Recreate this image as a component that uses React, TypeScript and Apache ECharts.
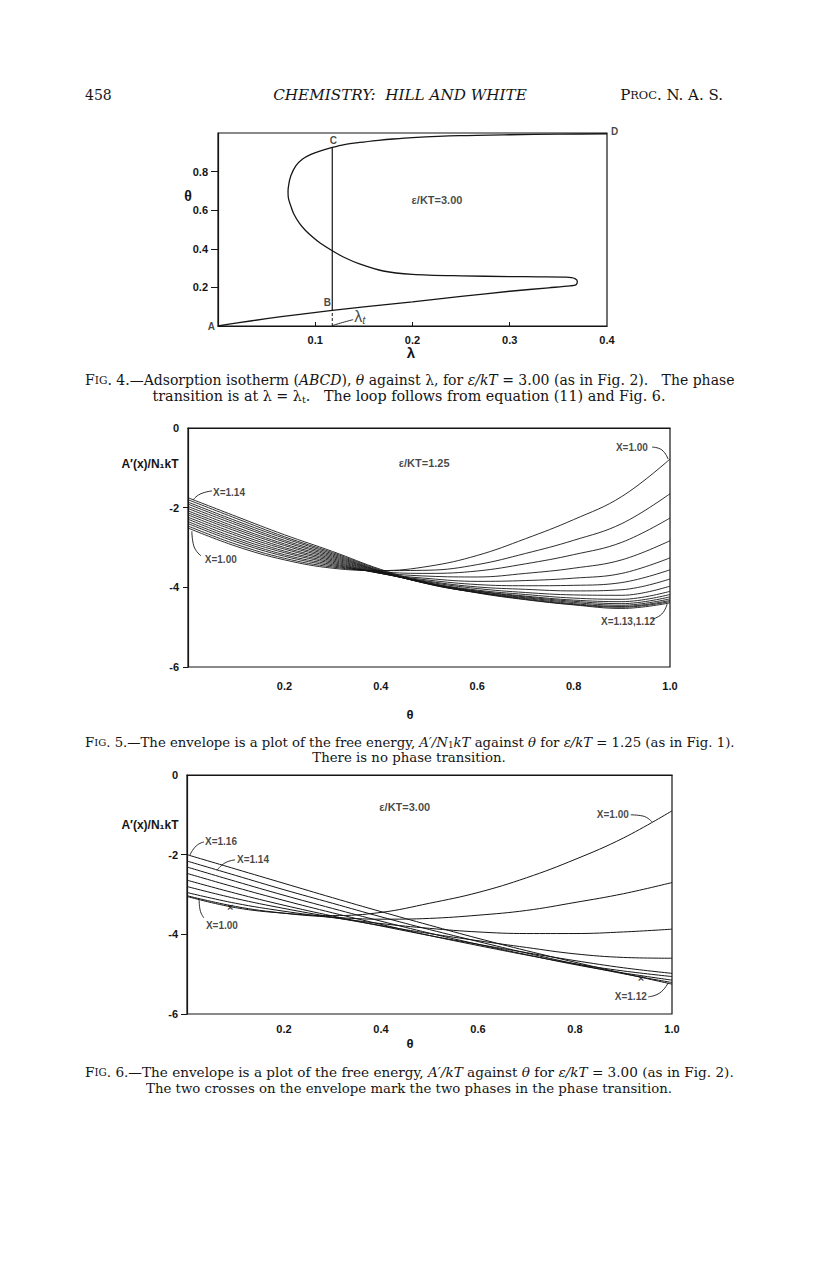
import React, { useEffect, useRef } from 'react';
import * as echarts from 'echarts';

// ---------------- Fig. 4 : adsorption isotherm (lambda, theta) ----------------
const fig4Lambda = [0, 0.02, 0.05, 0.08, 0.1175, 0.15, 0.2, 0.25, 0.3, 0.34, 0.362, 0.368, 0.3695, 0.367, 0.358, 0.33, 0.3, 0.25, 0.2, 0.17, 0.1455, 0.13, 0.1175, 0.105, 0.0976, 0.09, 0.084, 0.078, 0.075, 0.0725, 0.072, 0.073, 0.075, 0.08, 0.087, 0.095, 0.104, 0.1175, 0.13, 0.1455, 0.165, 0.18, 0.2, 0.248, 0.3, 0.35, 0.4];
const fig4Theta = [0, 0.016, 0.038, 0.058, 0.081, 0.099, 0.125, 0.153, 0.18, 0.198, 0.208, 0.213, 0.23, 0.246, 0.253, 0.255, 0.256, 0.26, 0.268, 0.285, 0.322, 0.355, 0.39, 0.43, 0.46, 0.495, 0.53, 0.58, 0.62, 0.66, 0.697, 0.74, 0.78, 0.83, 0.865, 0.888, 0.905, 0.925, 0.94, 0.951, 0.962, 0.969, 0.976, 0.986, 0.991, 0.994, 0.996];
const lambdaT = 0.1175;
const thetaB = 0.081;
const thetaC = 0.925;
const fig4XTicks = [0.1, 0.2, 0.3, 0.4];
const fig4YTicks = [0.2, 0.4, 0.6, 0.8];

// ---------------- Fig. 5 : eps/kT = 1.25, X = 1.00 ... 1.14 ----------------
const fig5Theta = [0, 0.1, 0.2, 0.3, 0.4, 0.5, 0.6, 0.7, 0.8, 0.9, 1.0];
const f5x100 = [-2.51, -2.97, -3.31, -3.52, -3.58, -3.47, -3.2, -2.78, -2.3, -1.72, -0.78];
const f5x101 = [-2.46, -2.92, -3.27, -3.49, -3.58, -3.57, -3.43, -3.15, -2.82, -2.4, -1.65];
const f5x102 = [-2.4, -2.86, -3.22, -3.46, -3.61, -3.65, -3.59, -3.41, -3.18, -2.87, -2.26];
const f5x103 = [-2.35, -2.81, -3.18, -3.43, -3.63, -3.72, -3.74, -3.65, -3.52, -3.31, -2.83];
const f5x104 = [-2.29, -2.76, -3.13, -3.4, -3.65, -3.78, -3.85, -3.83, -3.77, -3.65, -3.26];
const f5x105 = [-2.24, -2.7, -3.09, -3.37, -3.65, -3.82, -3.93, -3.96, -3.95, -3.88, -3.56];
const f5x106 = [-2.18, -2.65, -3.04, -3.34, -3.65, -3.85, -3.99, -4.05, -4.09, -4.06, -3.79];
const f5x107 = [-2.13, -2.59, -3.0, -3.31, -3.64, -3.87, -4.03, -4.13, -4.19, -4.2, -3.97];
const f5x108 = [-2.08, -2.54, -2.95, -3.28, -3.63, -3.89, -4.07, -4.18, -4.27, -4.3, -4.1];
const f5x109 = [-2.02, -2.49, -2.91, -3.25, -3.62, -3.9, -4.09, -4.22, -4.32, -4.36, -4.18];
const f5x110 = [-1.97, -2.43, -2.86, -3.22, -3.61, -3.91, -4.1, -4.24, -4.35, -4.41, -4.24];
const f5x111 = [-1.91, -2.38, -2.82, -3.19, -3.6, -3.91, -4.12, -4.26, -4.38, -4.45, -4.29];
const f5x112 = [-1.86, -2.33, -2.77, -3.16, -3.59, -3.92, -4.13, -4.28, -4.41, -4.48, -4.33];
const f5x113 = [-1.8, -2.27, -2.73, -3.13, -3.57, -3.92, -4.13, -4.3, -4.43, -4.5, -4.36];
const f5x114 = [-1.75, -2.22, -2.68, -3.1, -3.55, -3.9, -4.14, -4.31, -4.44, -4.53, -4.39];
const fig5Names = ['X=1.00', 'X=1.01', 'X=1.02', 'X=1.03', 'X=1.04', 'X=1.05', 'X=1.06', 'X=1.07', 'X=1.08', 'X=1.09', 'X=1.10', 'X=1.11', 'X=1.12', 'X=1.13', 'X=1.14'];
const fig5Curves = [f5x100, f5x101, f5x102, f5x103, f5x104, f5x105, f5x106, f5x107, f5x108, f5x109, f5x110, f5x111, f5x112, f5x113, f5x114];

// ---------------- Fig. 6 : eps/kT = 3.00, X = 1.00 ... 1.16 ----------------
const fig6Theta = [0, 0.1, 0.2, 0.3, 0.4, 0.5, 0.6, 0.7, 0.8, 0.9, 1.0];
const f6x100 = [-3.05, -3.33, -3.47, -3.53, -3.45, -3.22, -2.95, -2.58, -2.12, -1.58, -0.9];
const f6x102 = [-3.03, -3.3, -3.47, -3.57, -3.62, -3.6, -3.52, -3.4, -3.2, -2.98, -2.7];
const f6x104 = [-2.95, -3.22, -3.42, -3.58, -3.73, -3.85, -3.94, -3.98, -3.98, -3.94, -3.87];
const f6x106 = [-2.8, -3.1, -3.35, -3.57, -3.78, -3.98, -4.16, -4.33, -4.49, -4.58, -4.6];
const f6x108 = [-2.64, -2.97, -3.27, -3.54, -3.79, -4.03, -4.25, -4.46, -4.66, -4.84, -4.98];
const f6x110 = [-2.47, -2.82, -3.15, -3.46, -3.75, -4.03, -4.28, -4.52, -4.74, -4.92, -5.06];
const f6x112 = [-2.31, -2.67, -3.02, -3.35, -3.67, -3.97, -4.25, -4.51, -4.76, -4.97, -5.15];
const f6x114 = [-2.16, -2.52, -2.88, -3.22, -3.56, -3.88, -4.18, -4.47, -4.74, -4.99, -5.21];
const f6x116 = [-2.0, -2.36, -2.72, -3.08, -3.43, -3.77, -4.1, -4.41, -4.7, -4.98, -5.25];
const fig6Names = ['X=1.00', 'X=1.02', 'X=1.04', 'X=1.06', 'X=1.08', 'X=1.10', 'X=1.12', 'X=1.14', 'X=1.16'];
const fig6Curves = [f6x100, f6x102, f6x104, f6x106, f6x108, f6x110, f6x112, f6x114, f6x116];
const fig6Crosses = [[0.089, -3.32], [0.936, -5.1]];

const fig56XTicks = [0.2, 0.4, 0.6, 0.8, 1.0];
const fig56YTicks = [-6, -4, -2, 0];

// annotation anchors (data coordinates) and leader lines
const fig4Notes: [number, number, string][] = [[0.2252, 0.653, 'ε/KT=3.00']];
const fig4TLeader = [[0.1175, 0.002], [0.128, 0.018], [0.139, 0.033]];
const fig5Notes: [number, number, string][] = [
  [0.49, -0.87, 'ε/KT=1.25'],
  [0.921, -0.5, 'X=1.00'],
  [0.085, -1.61, 'X=1.14'],
  [0.068, -3.31, 'X=1.00'],
  [0.913, -4.87, 'X=1.13,1.12'],
];
const fig5Leaders = [
  [[0.963, -0.48], [0.983, -0.55], [0.996, -0.78]],
  [[0.05, -1.58], [0.025, -1.66], [0.01, -1.81]],
  [[0.027, -3.21], [0.012, -2.96], [0.008, -2.59]],
  [[0.963, -4.8], [0.983, -4.67], [0.994, -4.42]],
];
const fig6Notes: [number, number, string][] = [
  [0.449, -0.8, 'ε/KT=3.00'],
  [0.878, -1.0, 'X=1.00'],
  [0.07, -1.68, 'X=1.16'],
  [0.136, -2.11, 'X=1.14'],
  [0.072, -3.77, 'X=1.00'],
  [0.915, -5.57, 'X=1.12'],
];
const fig6Leaders = [
  [[0.915, -1.0], [0.94, -1.03], [0.959, -1.18]],
  [[0.035, -1.68], [0.019, -1.78], [0.006, -2.01]],
  [[0.099, -2.13], [0.078, -2.21], [0.062, -2.39]],
  [[0.035, -3.59], [0.027, -3.39], [0.025, -3.14]],
  [[0.951, -5.57], [0.975, -5.47], [0.992, -5.22]],
];

const INK = '#151515';
const SANS = 'Liberation Sans';
const SERIF = 'DejaVu Serif';

function richFor(size: number) {
  return {
    n: { fontFamily: SERIF, fontSize: size, color: INK },
    i: { fontFamily: SERIF, fontSize: size, fontStyle: 'italic', color: INK },
    sc: { fontFamily: SERIF, fontSize: size * 0.76, color: INK },
    sub: { fontFamily: SERIF, fontSize: size * 0.67, color: INK, padding: [6, 0, 0, 0] },
  };
}

function buildOption() {
  const letter = { fontFamily: SANS, fontWeight: 'bold' as const, color: INK };
  const axisBase = {
    type: 'value' as const,
    axisLine: { show: true, lineStyle: { color: INK, width: 1.2 } },
    splitLine: { show: false },
  };
  const fmt1 = (v: number) => (Math.round(v * 10) / 10).toFixed(1);
  const fmt0 = (v: number) => String(Math.round(v));

  const xAxis = [
    {
      ...axisBase, gridIndex: 0, min: 0, max: 0.4, interval: 0.1,
      axisTick: { show: true, inside: true, length: 4, lineStyle: { color: INK }, customValues: [0.1, 0.2, 0.3] },
      axisLabel: { ...letter, fontSize: 11, margin: 8, customValues: fig4XTicks, formatter: fmt1 },
    },
    {
      ...axisBase, gridIndex: 1, min: 0, max: 1, interval: 0.2,
      axisTick: { show: false },
      axisLabel: { ...letter, fontSize: 11, margin: 13, customValues: fig56XTicks, formatter: fmt1 },
    },
    {
      ...axisBase, gridIndex: 2, min: 0, max: 1, interval: 0.2,
      axisTick: { show: false },
      axisLabel: { ...letter, fontSize: 11, margin: 9, customValues: fig56XTicks, formatter: fmt1 },
    },
  ];
  const yAxis = [
    {
      ...axisBase, gridIndex: 0, min: 0, max: 1, interval: 0.2,
      axisTick: { show: true, inside: false, length: 7, lineStyle: { color: INK }, customValues: fig4YTicks },
      axisLabel: { ...letter, fontSize: 11, margin: 10, customValues: fig4YTicks, formatter: fmt1 },
    },
    {
      ...axisBase, gridIndex: 1, min: -6, max: 0, interval: 2,
      axisTick: { show: true, length: 5, lineStyle: { color: INK }, customValues: [-6, -4, -2] },
      axisLabel: { ...letter, fontSize: 11, margin: 9, customValues: fig56YTicks, formatter: fmt0 },
    },
    {
      ...axisBase, gridIndex: 2, min: -6, max: 0, interval: 2,
      axisTick: { show: true, length: 6, lineStyle: { color: INK }, customValues: [-6, -4, -2] },
      axisLabel: { ...letter, fontSize: 11, margin: 9, customValues: fig56YTicks, formatter: fmt0 },
    },
  ];

  const series: any[] = [];
  const lineS = (idx: number, data: number[][], width: number, extra: any = {}) => ({
    type: 'line', xAxisIndex: idx, yAxisIndex: idx, data, symbol: 'none', silent: true,
    lineStyle: { color: INK, width }, ...extra,
  });
  const noteS = (idx: number, notes: [number, number, string][], size: number) => ({
    type: 'scatter', xAxisIndex: idx, yAxisIndex: idx, symbolSize: 0, silent: true,
    data: notes.map(([x, y, t]) => ({
      value: [x, y],
      label: { show: true, position: 'inside', formatter: t, fontSize: t.startsWith('ε') ? 11 : size, ...letter },
    })),
  });

  // Fig 4
  series.push(lineS(0, fig4Lambda.map((l, i) => [l, fig4Theta[i]]), 1.3, { smooth: 0.3 }));
  series.push(lineS(0, [[lambdaT, thetaB], [lambdaT, thetaC]], 1.2));
  series.push(lineS(0, [[lambdaT, 0], [lambdaT, thetaB]], 1, { lineStyle: { color: INK, width: 1, type: [3, 2] } }));
  series.push(lineS(0, fig4TLeader, 0.9, { smooth: 0.5 }));
  series.push(noteS(0, fig4Notes, 11));
  series.push({
    type: 'scatter', xAxisIndex: 0, yAxisIndex: 0, symbolSize: 0, silent: true,
    data: [
      { value: [0, 0], label: { show: true, position: 'left', distance: 3, formatter: 'A', fontSize: 10, ...letter } },
      { value: [lambdaT, thetaB], label: { show: true, position: 'top', distance: 3, offset: [-5, 0], formatter: 'B', fontSize: 10, ...letter } },
      { value: [lambdaT, thetaC], label: { show: true, position: 'top', distance: 2, offset: [1, 0], formatter: 'C', fontSize: 10, ...letter } },
      { value: [0.4, 1], label: { show: true, position: 'right', distance: 4, offset: [0, -2], formatter: 'D', fontSize: 10, ...letter } },
      {
        value: [0.139, 0.033], label: {
          show: true, position: 'right', distance: 1, offset: [0, -3], formatter: '{a|λ}{b|t}',
          rich: { a: { fontSize: 16, fontFamily: SANS, color: INK }, b: { fontSize: 11, fontFamily: SANS, fontStyle: 'italic', color: INK, padding: [7, 0, 0, 0] } },
        },
      },
    ],
  });

  // Fig 5
  fig5Curves.forEach((c, k) => series.push(lineS(1, fig5Theta.map((t, j) => [t, c[j]]), 0.9, { smooth: 0.4, name: fig5Names[k] })));
  fig5Leaders.forEach((l) => series.push(lineS(1, l, 0.9, { smooth: 0.5 })));
  series.push(noteS(1, fig5Notes, 10));

  // Fig 6
  fig6Curves.forEach((c, k) => series.push(lineS(2, fig6Theta.map((t, j) => [t, c[j]]), 1, { smooth: 0.4, name: fig6Names[k] })));
  fig6Leaders.forEach((l) => series.push(lineS(2, l, 0.9, { smooth: 0.5 })));
  series.push(noteS(2, fig6Notes, 10));
  series.push({
    type: 'scatter', xAxisIndex: 2, yAxisIndex: 2, symbolSize: 0, silent: true,
    data: fig6Crosses.map((p) => ({ value: p, label: { show: true, position: 'inside', formatter: '×', fontSize: 11, ...letter } })),
  });

  const cap = (x: number, y: number, text: string, size: number, align = 'left') => ({
    type: 'text', x, y, silent: true,
    style: { text, rich: richFor(size), align, verticalAlign: 'middle', fontFamily: SERIF, fontSize: size, fill: INK },
  });
  const name = (x: number, y: number, text: string, size: number) => ({
    type: 'text', x, y, silent: true,
    style: { text, align: 'center', verticalAlign: 'middle', fontFamily: SANS, fontWeight: 'bold', fontSize: size, fill: INK },
  });

  const graphic = [
    // page header
    cap(85, 95, '{n|458}', 14),
    cap(400, 95, '{i|CHEMISTRY:  HILL AND WHITE}', 15.2, 'center'),
    cap(723, 95, '{n|P}{sc|ROC}{n|. N. A. S.}', 15, 'right'),
    // captions
    cap(85, 380, '{n|F}{sc|IG}{n|. 4.—Adsorption isotherm (}{i|ABCD}{n|), }{i|θ}{n| against λ, for }{i|ε/kT}{n| = 3.00 (as in Fig. 2).   The phase}', 14.0),
    cap(409, 396, '{n|transition is at λ = λ}{sub|t}{n|.   The loop follows from equation (11) and Fig. 6.}', 14.3, 'center'),
    cap(85, 742, '{n|F}{sc|IG}{n|. 5.—The envelope is a plot of the free energy, }{i|A′/N}{sub|1}{i|kT}{n| against }{i|θ}{n| for }{i|ε/kT}{n| = 1.25 (as in Fig. 1).}', 13.25),
    cap(409, 757, '{n|There is no phase transition.}', 13.3, 'center'),
    cap(85, 1072, '{n|F}{sc|IG}{n|. 6.—The envelope is a plot of the free energy, }{i|A′/kT}{n| against }{i|θ}{n| for }{i|ε/kT}{n| = 3.00 (as in Fig. 2).}', 13.6),
    cap(409, 1088, '{n|The two crosses on the envelope mark the two phases in the phase transition.}', 13.3, 'center'),
    // axis names
    name(188, 196, 'θ', 14),
    name(411, 352, 'λ', 15),
    name(150, 464, 'A′(x)/N₁kT', 12),
    name(410, 714, 'θ', 13),
    name(150, 825, 'A′(x)/N₁kT', 12),
    name(410, 1043, 'θ', 13),
  ];

  const gridBase = { show: true, borderColor: INK, borderWidth: 1.2, backgroundColor: 'transparent', containLabel: false };
  return {
    animation: false,
    backgroundColor: '#ffffff',
    grid: [
      { ...gridBase, left: 218, top: 133, width: 389, height: 193 },
      { ...gridBase, left: 188, top: 428, width: 482, height: 239 },
      { ...gridBase, left: 187, top: 775, width: 485, height: 239 },
    ],
    xAxis,
    yAxis,
    series,
    graphic,
  };
}

export default function App() {
  const ref = useRef<HTMLDivElement>(null);
  useEffect(() => {
    if (!ref.current) return;
    const chart = echarts.init(ref.current, undefined, { renderer: 'svg', width: 816, height: 1261 });
    chart.setOption(buildOption() as any);
    return () => chart.dispose();
  }, []);
  return (
    <div
      ref={ref}
      style={{ position: 'absolute', left: 0, top: 0, width: 816, height: 1261, background: '#fff' }}
    />
  );
}
